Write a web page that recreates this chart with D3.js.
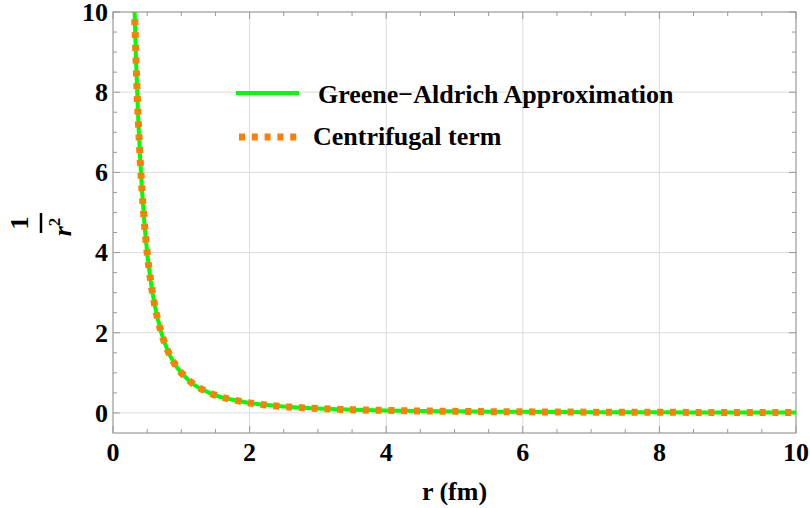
<!DOCTYPE html>
<html>
<head>
<meta charset="utf-8">
<script src="https://cdn.jsdelivr.net/npm/d3@7/dist/d3.min.js"></script>
<style>
  body { margin: 0; background: #fff; }
  svg { display: block; }
  text { font-family: "Liberation Serif", "Times New Roman", serif; font-weight: bold; fill: #000; }
</style>
</head>
<body>
<svg id="chart" width="810" height="508"></svg>
<script>
// values (r in fm, curve height)
const rValues = [0.3, 0.316, 0.34, 0.37, 0.4, 0.45, 0.5, 0.55, 0.6, 0.7, 0.8, 0.9, 1.0, 1.1, 1.2, 1.35, 1.5, 1.75, 2.0, 2.5, 3.0, 3.5, 4.0, 5.0, 6.0, 7.0, 8.0, 9.0, 10.0];
const gaApprox = [11.1, 10.0, 8.65, 7.3, 6.25, 4.94, 4.0, 3.31, 2.78, 2.04, 1.56, 1.23, 1.0, 0.83, 0.69, 0.55, 0.44, 0.33, 0.25, 0.16, 0.11, 0.082, 0.063, 0.04, 0.028, 0.02, 0.016, 0.012, 0.01];
const centrifugal = [11.1, 10.0, 8.65, 7.3, 6.25, 4.94, 4.0, 3.31, 2.78, 2.04, 1.56, 1.23, 1.0, 0.83, 0.69, 0.55, 0.44, 0.33, 0.25, 0.16, 0.11, 0.082, 0.063, 0.04, 0.028, 0.02, 0.016, 0.012, 0.01];
const xTicks = [0, 2, 4, 6, 8, 10];
const yTicks = [0, 2, 4, 6, 8, 10];
const legendLabels = ['Greene\u2212Aldrich Approximation', 'Centrifugal term'];

const plotL = 113, plotR = 796, plotT = 12, plotB = 433;
const fs = 26;
const svg = d3.select('#chart');

const x = d3.scaleLinear().domain([0, 10]).range([plotL, plotR]);
const y = d3.scaleLinear().domain([-0.5, 10]).range([plotB, plotT]);

const minorX = d3.range(0, 10.01, 0.5);
const minorY = d3.range(0, 10.01, 0.5);

// grid
const grid = svg.append('g').attr('stroke', '#dcdcdc').attr('stroke-width', 1);
grid.selectAll('.gx').data(xTicks.filter(d => d > 0 && d < 10)).enter().append('line')
  .attr('x1', d => x(d)).attr('x2', d => x(d)).attr('y1', plotT).attr('y2', plotB);
grid.selectAll('.gy').data(yTicks.filter(d => d < 10)).enter().append('line')
  .attr('y1', d => y(d)).attr('y2', d => y(d)).attr('x1', plotL).attr('x2', plotR);

// frame ticks (inward, all four sides)
const ticks = svg.append('g').attr('stroke', '#999').attr('stroke-width', 1);
minorX.forEach(v => {
  const len = xTicks.includes(v) ? 7 : 4;
  ticks.append('line').attr('x1', x(v)).attr('x2', x(v)).attr('y1', plotB).attr('y2', plotB - len);
  ticks.append('line').attr('x1', x(v)).attr('x2', x(v)).attr('y1', plotT).attr('y2', plotT + len);
});
minorY.forEach(v => {
  const len = yTicks.includes(v) ? 7 : 4;
  ticks.append('line').attr('y1', y(v)).attr('y2', y(v)).attr('x1', plotL).attr('x2', plotL + len);
  ticks.append('line').attr('y1', y(v)).attr('y2', y(v)).attr('x1', plotR).attr('x2', plotR - len);
});

svg.append('rect')
  .attr('x', plotL).attr('y', plotT).attr('width', plotR - plotL).attr('height', plotB - plotT)
  .attr('fill', 'none').attr('stroke', '#999').attr('stroke-width', 1.2);

// tick labels
svg.append('g').selectAll('text').data(xTicks).enter().append('text')
  .attr('x', d => x(d)).attr('y', plotB + 28)
  .attr('text-anchor', 'middle').attr('font-size', fs)
  .text(d => d);
svg.append('g').selectAll('text').data(yTicks).enter().append('text')
  .attr('x', plotL - 5).attr('y', d => y(d)).attr('dy', '0.34em')
  .attr('text-anchor', 'end').attr('font-size', fs)
  .text(d => d);

// curves
svg.append('clipPath').attr('id', 'plot-clip').append('rect')
  .attr('x', plotL).attr('y', plotT).attr('width', plotR - plotL).attr('height', plotB - plotT);

const line = (vals) => d3.line()
  .x((d, i) => x(rValues[i]))
  .y(d => y(d))
  .curve(d3.curveMonotoneX)(vals);

const curves = svg.append('g').attr('clip-path', 'url(#plot-clip)');
curves.append('path').attr('d', line(gaApprox))
  .attr('fill', 'none').attr('stroke', '#00ff00').attr('stroke-width', 4);
curves.append('path').attr('d', line(centrifugal))
  .attr('fill', 'none').attr('stroke', '#ff8000').attr('stroke-width', 7)
  .attr('stroke-dasharray', '6,6.8');

// legend
const legend = svg.append('g');
legend.append('line').attr('x1', 236).attr('x2', 299).attr('y1', 93).attr('y2', 93)
  .attr('stroke', '#00ff00').attr('stroke-width', 4);
legend.append('text').attr('x', 318).attr('y', 103).attr('font-size', fs).text(legendLabels[0]);
legend.append('line').attr('x1', 239).attr('x2', 297).attr('y1', 137).attr('y2', 137)
  .attr('stroke', '#ff8000').attr('stroke-width', 7).attr('stroke-dasharray', '6,6.8');
legend.append('text').attr('x', 313).attr('y', 145).attr('font-size', fs).text(legendLabels[1]);

// axis titles
svg.append('text').attr('x', (plotL + plotR) / 2).attr('y', 500)
  .attr('text-anchor', 'middle').attr('font-size', fs).text('r (fm)');

const yTitle = svg.append('g').attr('transform', 'translate(41,223) rotate(-90)');
yTitle.append('text').attr('x', 0).attr('y', -13).attr('text-anchor', 'middle')
  .attr('font-size', fs).text('1');
yTitle.append('line').attr('x1', -10).attr('x2', 10).attr('y1', 0).attr('y2', 0)
  .attr('stroke', '#000').attr('stroke-width', 2.5);
const den = yTitle.append('text').attr('x', -4).attr('y', 30).attr('text-anchor', 'middle')
  .attr('font-size', fs);
den.append('tspan').attr('font-style', 'italic').text('r');
den.append('tspan').attr('font-size', 17).attr('dy', -11).text('2');
</script>
</body>
</html>
